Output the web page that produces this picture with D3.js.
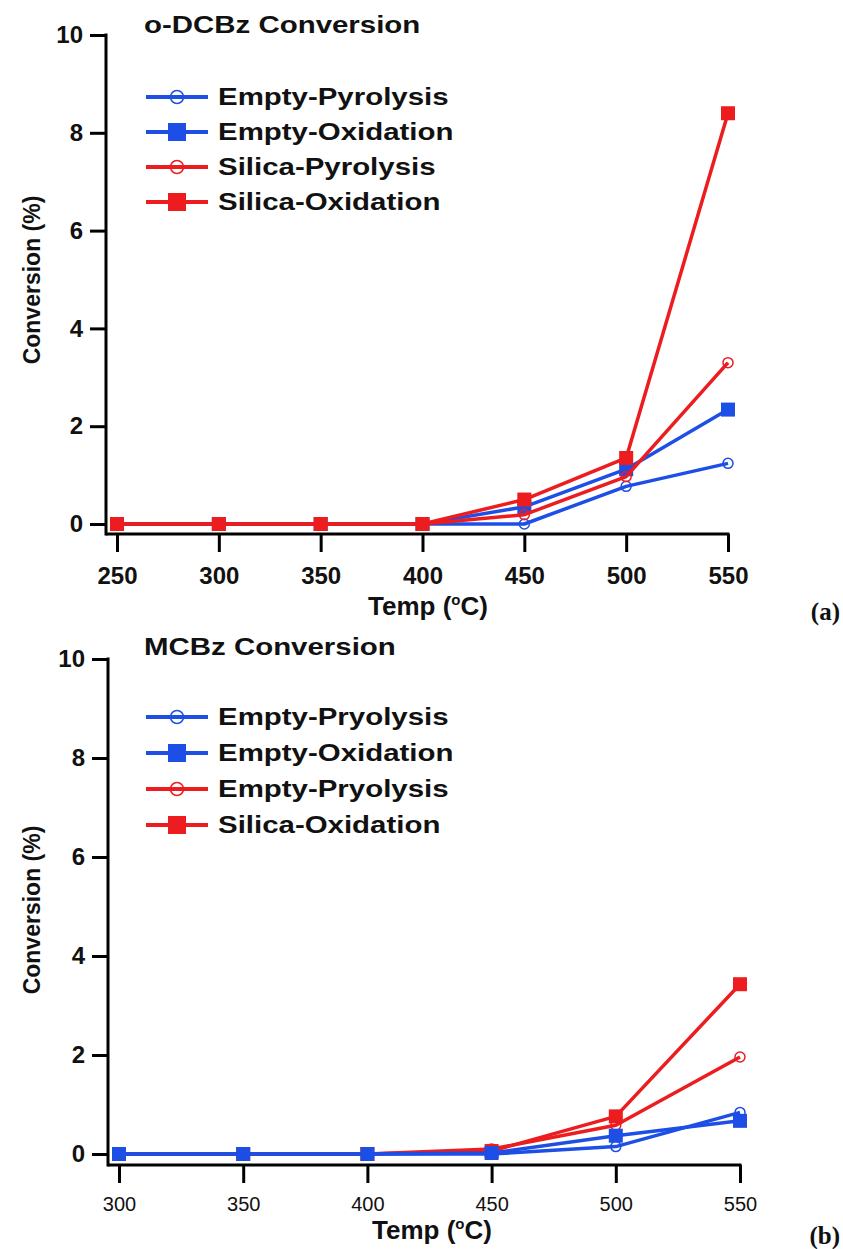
<!DOCTYPE html>
<html>
<head>
<meta charset="utf-8">
<script src="https://cdn.jsdelivr.net/npm/d3@7"></script>
<style>
  body { margin: 0; background: #fff; }
  svg { display: block; }
</style>
</head>
<body>
<div id="chart"></div>
<script>
// panel (a): o-DCBz
const tempsA = [250, 300, 350, 400, 450, 500, 550];
const emptyPyrA = [0, 0, 0, 0, 0, 0.77, 1.24];
const emptyOxA = [0, 0, 0, 0, 0.35, 1.12, 2.34];
const silicaPyrA = [0, 0, 0, 0, 0.19, 0.97, 3.3];
const silicaOxA = [0, 0, 0, 0, 0.5, 1.35, 8.4];
const labelsA = ["Empty-Pyrolysis", "Empty-Oxidation", "Silica-Pyrolysis", "Silica-Oxidation"];

// panel (b): MCBz
const tempsB = [300, 350, 400, 450, 500, 550];
const emptyPyrB = [0, 0, 0, 0, 0.15, 0.84];
const emptyOxB = [0, 0, 0, 0.02, 0.37, 0.67];
const silicaPyrB = [0, 0, 0, 0.1, 0.58, 1.96];
const silicaOxB = [0, 0, 0, 0.06, 0.76, 3.43];
const labelsB = ["Empty-Pryolysis", "Empty-Oxidation", "Empty-Pryolysis", "Silica-Oxidation"];

const yTicks = [0, 2, 4, 6, 8, 10];

const BLUE = "#1d4fe6";
const RED = "#ec1c1f";
const WIDE = 1.28; // title/legend text in the source is drawn wider than Arial

const svg = d3.select("#chart").append("svg")
  .attr("width", 843)
  .attr("height", 1249);

function drawPanel(p) {
  let x = d3.scaleLinear().domain(p.xDomain).range(p.xRange);
  let y = d3.scaleLinear().domain([0, 10]).range(p.yRange);

  let g = svg.append("g");

  let series = [
    { vals: p.emptyPyr, color: BLUE, mark: "circle", label: p.labels[0] },
    { vals: p.emptyOx, color: BLUE, mark: "square", label: p.labels[1] },
    { vals: p.silicaPyr, color: RED, mark: "circle", label: p.labels[2] },
    { vals: p.silicaOx, color: RED, mark: "square", label: p.labels[3] }
  ];
  let order = p.drawOrder.map(i => series[i]);

  let line = d3.line()
    .x(d => x(d[0]))
    .y(d => y(d[1]));

  order.forEach(s => {
    let pts = p.temps.map((t, i) => [t, s.vals[i]]);
    let sg = g.append("g");
    sg.append("path")
      .datum(pts)
      .attr("fill", "none")
      .attr("stroke", s.color)
      .attr("stroke-width", 3.5)
      .attr("stroke-linejoin", "round")
      .attr("d", line);
    if (s.mark === "circle") {
      sg.selectAll(null).data(pts).enter().append("circle")
        .attr("cx", d => x(d[0]))
        .attr("cy", d => y(d[1]))
        .attr("r", 5)
        .attr("fill", "none")
        .attr("stroke", s.color)
        .attr("stroke-width", 1.5);
    } else {
      sg.selectAll(null).data(pts).enter().append("rect")
        .attr("x", d => x(d[0]) - 7)
        .attr("y", d => y(d[1]) - 7)
        .attr("width", 14)
        .attr("height", 14)
        .attr("fill", s.color);
    }
  });

  // axes
  let yAxis = d3.axisLeft(y).tickValues(yTicks).tickSize(16).tickPadding(7).tickSizeOuter(0);
  let yg = g.append("g")
    .attr("transform", `translate(${p.axisX},0)`)
    .call(yAxis);
  yg.select(".domain").remove();
  yg.append("line")
    .attr("x1", 0).attr("x2", 0)
    .attr("y1", y(10) - 1.5).attr("y2", p.axisY + 1.5)
    .attr("stroke", "#000").attr("stroke-width", 3);
  yg.selectAll(".tick line").attr("stroke-width", 3);
  yg.selectAll(".tick text")
    .attr("font-family", "Liberation Sans, Arial, sans-serif")
    .attr("font-weight", "bold")
    .attr("font-size", 24)
    .attr("fill", "#111");

  let xAxis = d3.axisBottom(x).tickValues(p.temps).tickSize(18).tickPadding(p.xPad).tickSizeOuter(0);
  let xg = g.append("g")
    .attr("transform", `translate(0,${p.axisY})`)
    .call(xAxis);
  xg.select(".domain").remove();
  xg.append("line")
    .attr("x1", p.axisX).attr("x2", x(p.xDomain[1]) + 1.5)
    .attr("y1", 0).attr("y2", 0)
    .attr("stroke", "#000").attr("stroke-width", 3);
  xg.selectAll(".tick line").attr("stroke-width", 3);
  xg.selectAll(".tick text")
    .attr("font-family", "Liberation Sans Narrow, Arial Narrow, sans-serif")
    .attr("font-weight", p.xBold ? "bold" : "normal")
    .attr("font-size", p.xFont)
    .attr("fill", "#111");

  // axis titles
  g.append("text")
    .attr("transform", `translate(${p.yTitleX},${p.yTitleY}) rotate(-90)`)
    .attr("text-anchor", "middle")
    .attr("font-family", "Liberation Sans, Arial, sans-serif")
    .attr("font-weight", "bold")
    .attr("font-size", 23)
    .attr("fill", "#111")
    .text("Conversion (%)");

  let xt = g.append("text")
    .attr("x", p.xTitleX)
    .attr("y", p.xTitleY)
    .attr("text-anchor", "middle")
    .attr("font-family", "Liberation Sans Narrow, Arial Narrow, sans-serif")
    .attr("font-weight", "bold")
    .attr("font-size", 26)
    .attr("fill", "#111");
  xt.append("tspan").text("Temp (");
  xt.append("tspan").attr("font-size", 15).attr("dy", -10).text("o");
  xt.append("tspan").attr("dy", 10).text("C)");

  g.append("text")
    .attr("x", 840)
    .attr("y", p.tagY)
    .attr("text-anchor", "end")
    .attr("font-family", "Liberation Serif, Times New Roman, serif")
    .attr("font-weight", "bold")
    .attr("font-size", 25)
    .attr("fill", "#111")
    .text(p.tag);

  // title
  g.append("text")
    .attr("transform", `translate(144,${p.titleY}) scale(${WIDE},1)`)
    .attr("font-family", "Liberation Sans, Arial, sans-serif")
    .attr("font-weight", "bold")
    .attr("font-size", 23)
    .attr("fill", "#111")
    .text(p.title);

  // legend
  let leg = g.append("g");
  series.forEach((s, i) => {
    let ly = p.legY + i * p.legStep;
    leg.append("line")
      .attr("x1", 146).attr("x2", 208)
      .attr("y1", ly).attr("y2", ly)
      .attr("stroke", s.color).attr("stroke-width", 4);
    if (s.mark === "circle") {
      leg.append("circle")
        .attr("cx", 177).attr("cy", ly).attr("r", 6.5)
        .attr("fill", "none").attr("stroke", s.color).attr("stroke-width", 1.5);
    } else {
      leg.append("rect")
        .attr("x", 168).attr("y", ly - 9).attr("width", 18).attr("height", 18)
        .attr("fill", s.color);
    }
    leg.append("text")
      .attr("transform", `translate(218,${ly}) scale(${WIDE},1)`)
      .attr("dy", "0.36em")
      .attr("font-family", "Liberation Sans, Arial, sans-serif")
      .attr("font-weight", "bold")
      .attr("font-size", 23)
      .attr("fill", "#111")
      .text(s.label);
  });
}

drawPanel({
  temps: tempsA, emptyPyr: emptyPyrA, emptyOx: emptyOxA, silicaPyr: silicaPyrA, silicaOx: silicaOxA,
  labels: labelsA, drawOrder: [0, 1, 2, 3],
  xDomain: [250, 550], xRange: [117, 728], yRange: [524, 35],
  axisX: 106, axisY: 534, xPad: 15, xFont: 24, xBold: true,
  yTitleX: 40, yTitleY: 280, xTitleX: 428, xTitleY: 615,
  tag: "(a)", tagY: 620, title: "o-DCBz Conversion", titleY: 33,
  legY: 97, legStep: 35
});

drawPanel({
  temps: tempsB, emptyPyr: emptyPyrB, emptyOx: emptyOxB, silicaPyr: silicaPyrB, silicaOx: silicaOxB,
  labels: labelsB, drawOrder: [3, 2, 1, 0],
  xDomain: [300, 550], xRange: [119, 740], yRange: [1154, 659],
  axisX: 108, axisY: 1165, xPad: 14, xFont: 20, xBold: false,
  yTitleX: 40, yTitleY: 910, xTitleX: 432, xTitleY: 1239,
  tag: "(b)", tagY: 1244, title: "MCBz Conversion", titleY: 655,
  legY: 717, legStep: 36
});
</script>
</body>
</html>
